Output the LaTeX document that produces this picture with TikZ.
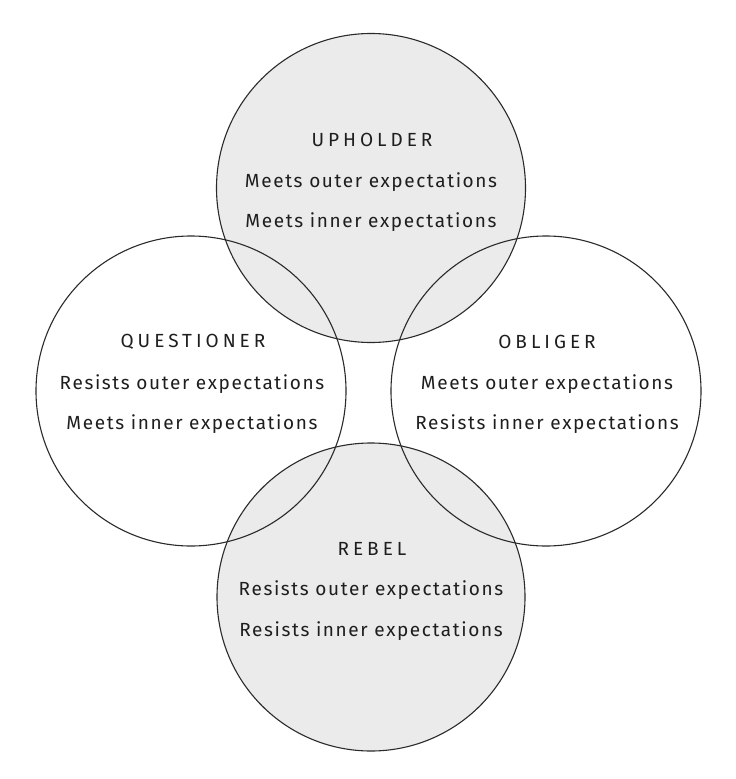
\documentclass[tikz,border=0pt]{standalone}
\usepackage{fontspec}
\setmainfont[LetterSpace=8.5]{Fira Sans}
\newfontfamily\titlefont[LetterSpace=21]{Fira Sans}
\definecolor{fillgray}{HTML}{EBEBEC}
\definecolor{inkline}{HTML}{2A2A2A}
\definecolor{inktext}{HTML}{1E1E1E}
\begin{document}
\begin{tikzpicture}[x=1pt,y=-1pt,
  ring/.style={draw=inkline,line width=1.1pt},
  title/.style={font=\titlefont\fontsize{19}{20}\selectfont,text=inktext,inner sep=0pt},
  body/.style={font=\fontsize{19}{22}\selectfont,text=inktext,inner sep=0pt}]
\useasboundingbox (0,0) rectangle (736,779);
% fills
\fill[fillgray] (371,188) circle (154.5);
\fill[fillgray] (371,597) circle (154);
% outlines
\draw[ring] (191,391) circle (155);
\draw[ring] (546,391) circle (155);
\draw[ring] (371,188) circle (154.5);
\draw[ring] (371,597) circle (154);
% texts
\node[title] (up) at (372,140) {UPHOLDER};
\node[body] (up1) at (371,182) {Meets outer expectations};
\node[body] (up2) at (371,222) {Meets inner expectations};
\node[title] (qu) at (193,342) {QUESTIONER};
\node[body] (qu1) at (192,384) {Resists outer expectations};
\node[body] (qu2) at (192,424) {Meets inner expectations};
\node[title] (ob) at (547,342) {OBLIGER};
\node[body] (ob1) at (547,384) {Meets outer expectations};
\node[body] (ob2) at (547,424) {Resists inner expectations};
\node[title] (re) at (372,549) {REBEL};
\node[body] (re1) at (371,590) {Resists outer expectations};
\node[body] (re2) at (371,631) {Resists inner expectations};
\end{tikzpicture}
\end{document}
